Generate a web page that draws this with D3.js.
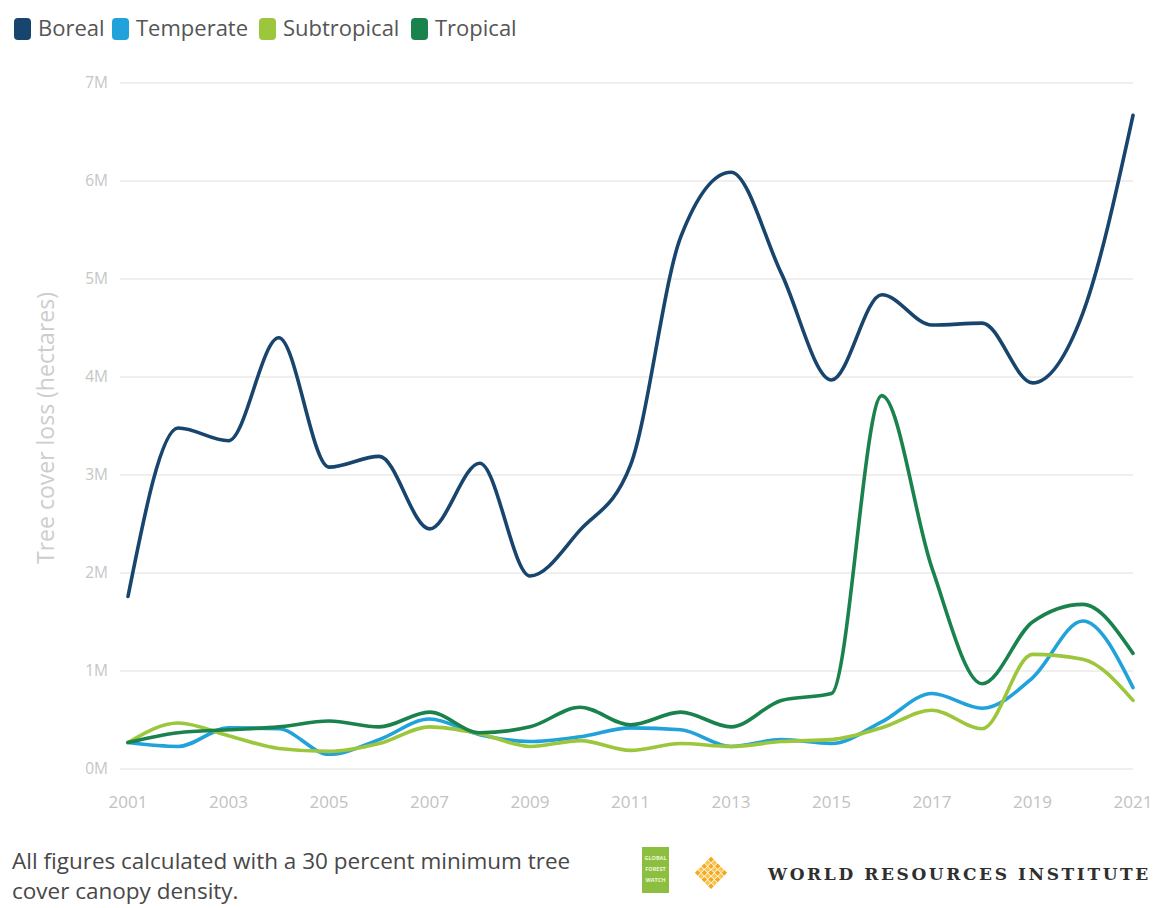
<!DOCTYPE html>
<html>
<head>
<meta charset="utf-8">
<script src="https://cdn.jsdelivr.net/npm/d3@7"></script>
<style>
  html, body { margin: 0; padding: 0; background: #fff; }
  svg { display: block; }
</style>
</head>
<body>
<svg id="chart" width="1160" height="908"></svg>
<script>
// ---- data ----
const years = [2001,2002,2003,2004,2005,2006,2007,2008,2009,2010,2011,2012,2013,2014,2015,2016,2017,2018,2019,2020,2021];
const boreal      = [1.76,3.48,3.35,4.40,3.08,3.19,2.45,3.12,1.97,2.44,3.10,5.43,6.09,5.06,3.97,4.84,4.53,4.55,3.94,4.65,6.67];
const temperate   = [0.27,0.23,0.42,0.41,0.15,0.30,0.51,0.35,0.28,0.33,0.42,0.40,0.23,0.30,0.26,0.48,0.77,0.62,0.93,1.51,0.83];
const subtropical = [0.27,0.47,0.34,0.21,0.18,0.26,0.43,0.36,0.23,0.29,0.19,0.26,0.23,0.28,0.30,0.42,0.60,0.41,1.17,1.12,0.70];
const tropical    = [0.27,0.37,0.40,0.43,0.49,0.43,0.58,0.37,0.43,0.63,0.45,0.58,0.43,0.70,0.77,3.81,2.05,0.87,1.50,1.68,1.18];
const seriesNames = ["Boreal","Temperate","Subtropical","Tropical"];
const seriesColors = ["#17456e","#21a2da","#9cc63c","#1a824d"];
const yTicks = [0,1,2,3,4,5,6,7];
const xTicks = [2001,2003,2005,2007,2009,2011,2013,2015,2017,2019,2021];

const seriesValues = [boreal, temperate, subtropical, tropical];

const svg = d3.select("#chart");
const FONT = "'Open Sans', 'Noto Sans', sans-serif";

const x = d3.scaleLinear().domain([2001, 2021]).range([128, 1133]);
const y = d3.scaleLinear().domain([0, 7]).range([769, 83]);

// gridlines
svg.append("g").selectAll("line").data(yTicks).join("line")
  .attr("x1", 120).attr("x2", 1133)
  .attr("y1", d => y(d)).attr("y2", d => y(d))
  .attr("stroke", "#f0efed").attr("stroke-width", 2);

// y tick labels
svg.append("g").selectAll("text").data(yTicks).join("text")
  .attr("x", 108).attr("y", d => y(d) + 5)
  .attr("text-anchor", "end")
  .attr("font-family", FONT).attr("font-size", 15.5)
  .attr("fill", "#c6c6c6")
  .text(d => d + "M");

// x tick labels
svg.append("g").selectAll("text").data(xTicks).join("text")
  .attr("x", d => x(d)).attr("y", 808)
  .attr("text-anchor", "middle")
  .attr("font-family", FONT).attr("font-size", 17)
  .attr("fill", "#c2c2c2")
  .text(d => d);

// y axis title
svg.append("text")
  .attr("transform", "translate(54,428) rotate(-90)")
  .attr("text-anchor", "middle")
  .attr("font-family", FONT).attr("font-size", 23)
  .attr("fill", "#cdcdcd")
  .text("Tree cover loss (hectares)");

// lines
const line = d3.line()
  .x((d, i) => x(years[i]))
  .y(d => y(d))
  .curve(d3.curveMonotoneX);

svg.append("g").selectAll("path").data(seriesValues).join("path")
  .attr("d", d => line(d))
  .attr("fill", "none")
  .attr("stroke", (d, i) => seriesColors[i])
  .attr("stroke-width", 3.6)
  .attr("stroke-linejoin", "round")
  .attr("stroke-linecap", "round");

// legend
const legendX = [14, 112, 259, 411];
const lg = svg.append("g");
seriesNames.forEach((name, i) => {
  lg.append("rect")
    .attr("x", legendX[i]).attr("y", 18)
    .attr("width", 17).attr("height", 22)
    .attr("rx", 4)
    .attr("fill", seriesColors[i]);
  lg.append("text")
    .attr("x", legendX[i] + 24).attr("y", 36)
    .attr("font-family", FONT).attr("font-size", 22)
    .attr("fill", "#555555")
    .text(name);
});

// footer text
svg.append("text")
  .attr("x", 12).attr("y", 869)
  .attr("font-family", FONT).attr("font-size", 22.5)
  .attr("fill", "#484848")
  .text("All figures calculated with a 30 percent minimum tree");
svg.append("text")
  .attr("x", 12).attr("y", 899)
  .attr("font-family", FONT).attr("font-size", 22.5)
  .attr("fill", "#484848")
  .text("cover canopy density.");

// GFW logo
const gfw = svg.append("g");
gfw.append("rect").attr("x", 642).attr("y", 847).attr("width", 27).attr("height", 46).attr("fill", "#8cbf3f");
["GLOBAL","FOREST","WATCH"].forEach((t, i) => {
  gfw.append("text").attr("x", 655.5).attr("y", 860 + i * 11)
    .attr("text-anchor", "middle")
    .attr("font-family", FONT).attr("font-size", 5.5).attr("font-weight", 700)
    .attr("fill", "#eef6dc").text(t);
});

// WRI logo (diamond of small squares)
const wri = svg.append("g").attr("transform", "translate(711,873) rotate(45)");
const cells = d3.range(5);
cells.forEach(r => cells.forEach(c => {
  wri.append("rect")
    .attr("x", -11.5 + c * 4.7).attr("y", -11.5 + r * 4.7)
    .attr("width", 4).attr("height", 4)
    .attr("fill", (r + c) % 2 === 0 ? "#f6a623" : "#f9c84a");
}));

svg.append("text")
  .attr("x", 768).attr("y", 880)
  .attr("font-family", "'DejaVu Serif', 'Liberation Serif', serif")
  .attr("font-size", 17).attr("font-weight", 700)
  .attr("letter-spacing", 2.6)
  .attr("fill", "#2f2f2f")
  .text("WORLD RESOURCES INSTITUTE");
</script>
</body>
</html>
